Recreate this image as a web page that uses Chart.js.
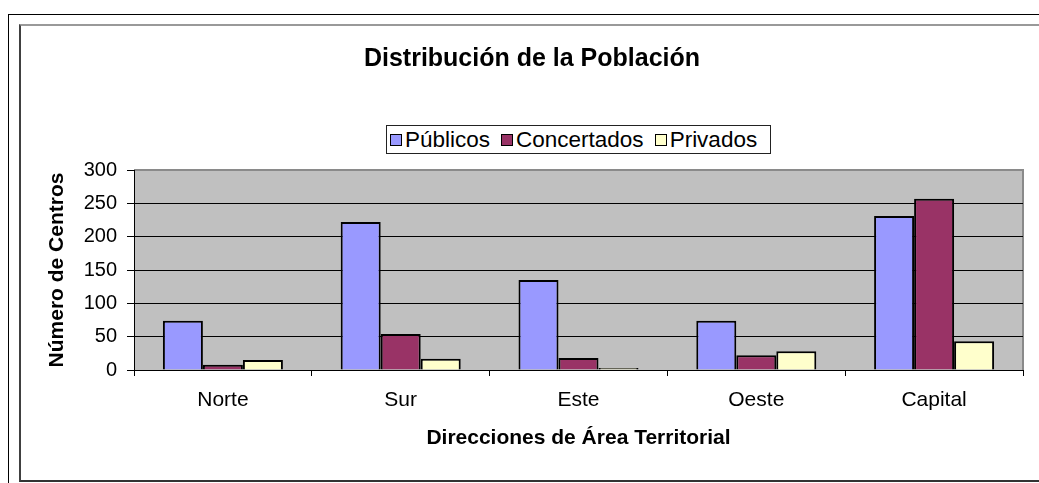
<!DOCTYPE html>
<html>
<head>
<meta charset="utf-8">
<script src="https://cdn.jsdelivr.net/npm/chart.js@4.4.1/dist/chart.umd.min.js"></script>
<style>
  body { margin: 0; background: #fff; }
  #wrap { position: relative; width: 1039px; height: 483px; overflow: hidden; }
  #outer { position: absolute; left: 8px; top: 14px; width: 1100px; height: 600px; border-left: 1px solid #000; border-top: 1px solid #000; }
  #inner { position: absolute; left: 19px; top: 24px; width: 1100px; height: 454px; border-left: 2px solid #404040; border-top: 2px solid #999; border-bottom: 2px solid #333; }
  #chart { position: absolute; left: 0; top: 0; }
  #legend { position: absolute; left: 386px; top: 125px; width: 385px; height: 29px; border: 1px solid #222; background: #fff;
    display: flex; align-items: center; justify-content: flex-start; padding-left: 3px; box-sizing: border-box;
    font-family: "Liberation Sans", Arial, sans-serif; font-size: 22.5px; color: #000; white-space: nowrap; }
  #legend .item { display: flex; align-items: center; margin-right: 11px; }
  #legend .box { width: 10px; height: 10px; border: 1.5px solid #000; margin-right: 3px; }
</style>
</head>
<body>
<div id="wrap">
  <div id="outer"></div>
  <div id="inner"></div>
  <canvas id="chart" width="1039" height="483"></canvas>
  <div id="legend"></div>
</div>
<script>
const categories = ["Norte", "Sur", "Este", "Oeste", "Capital"]
const seriesNames = ["Públicos", "Concertados", "Privados"]
const publicos = [74, 222, 135, 74, 231]
const concertados = [8, 54, 18, 22, 257]
const privados = [15, 17, 3, 28, 43]
const yTicks = [0, 50, 100, 150, 200, 250, 300]

const colors = ["#9999FF", "#993366", "#FFFFCC"]
const font = "'Liberation Sans', Arial, sans-serif"

// grey plot background, grey frame top/right
const plotBg = {
    id: "plotBg",
    beforeDraw(chart) {
        const a = chart.chartArea
        const ctx = chart.ctx
        ctx.save()
        ctx.fillStyle = "#C0C0C0"
        ctx.fillRect(a.left, a.top, a.right - a.left, a.bottom - a.top)
        ctx.strokeStyle = "#8a8a8a"
        ctx.lineWidth = 2
        ctx.beginPath()
        ctx.moveTo(a.left, a.top)
        ctx.lineTo(a.right, a.top)
        ctx.lineTo(a.right, a.bottom)
        ctx.stroke()
        ctx.restore()
    }
}

const chart = new Chart(document.getElementById("chart"), {
    type: "bar",
    data: {
        labels: categories,
        datasets: [
            { label: seriesNames[0], data: publicos, backgroundColor: colors[0] },
            { label: seriesNames[1], data: concertados, backgroundColor: colors[1] },
            { label: seriesNames[2], data: privados, backgroundColor: colors[2] }
        ].map(d => Object.assign(d, { borderColor: "#000", borderWidth: 2, barPercentage: 1, categoryPercentage: 0.675 }))
    },
    options: {
        responsive: false,
        animation: false,
        devicePixelRatio: 1,
        layout: { padding: { left: 41, right: 16, top: 0, bottom: 0 } },
        plugins: {
            legend: { display: false },
            tooltip: { enabled: false },
            title: {
                display: true,
                text: "Distribución de la Población",
                color: "#000",
                font: { family: font, size: 25, weight: "bold" },
                padding: { top: 44, bottom: 96 }
            }
        },
        scales: {
            x: {
                grid: { display: true, drawOnChartArea: false, color: "#000", tickLength: 6, offset: true },
                border: { color: "#000", width: 1 },
                ticks: { color: "#000", font: { family: font, size: 21 }, padding: 12 },
                title: {
                    display: true,
                    text: "Direcciones de Área Territorial",
                    color: "#000",
                    font: { family: font, size: 21, weight: "bold" },
                    padding: { top: 0, bottom: 32 }
                },
                afterFit(scale) { scale.height = 113 }
            },
            y: {
                min: 0,
                max: 300,
                afterBuildTicks(scale) { scale.ticks = yTicks.map(v => ({ value: v })) },
                grid: {
                    color: ctx => ctx.tick && ctx.tick.value === 300 ? "rgba(0,0,0,0)" : "#000",
                    tickColor: "#000",
                    tickLength: 7
                },
                border: { color: "#000", width: 1 },
                ticks: { color: "#000", font: { family: font, size: 20 }, padding: 10 },
                title: {
                    display: true,
                    text: "Número de Centros",
                    color: "#000",
                    font: { family: font, size: 21, weight: "bold" },
                    padding: { top: 4, bottom: 0 }
                },
                afterFit(scale) { scale.width = 93 }
            }
        }
    },
    plugins: [plotBg]
})

// legend built from the datasets
const legend = document.getElementById("legend")
chart.data.datasets.forEach(ds => {
    const item = document.createElement("span")
    item.className = "item"
    const box = document.createElement("span")
    box.className = "box"
    box.style.background = ds.backgroundColor
    item.appendChild(box)
    item.appendChild(document.createTextNode(ds.label))
    legend.appendChild(item)
})
</script>
</body>
</html>
